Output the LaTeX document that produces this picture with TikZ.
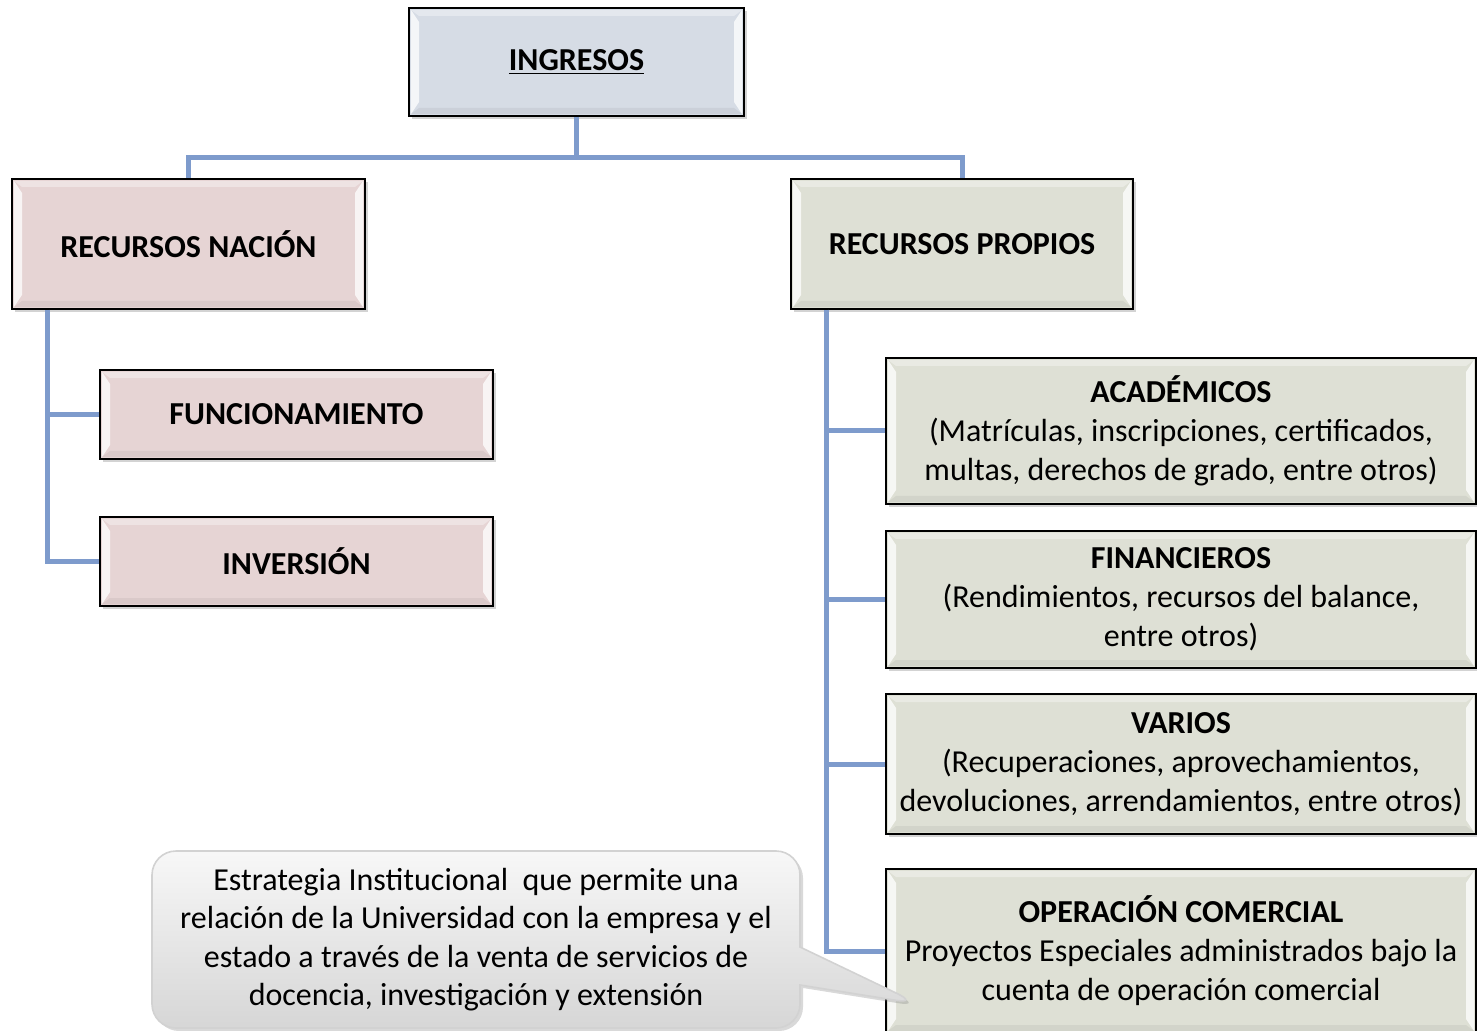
\documentclass[tikz,border=0pt]{standalone}
\usepackage{fontspec}
\setmainfont{Carlito}
\usetikzlibrary{positioning,shadows,shapes.callouts}

\definecolor{linkblue}{RGB}{126,155,204}
\definecolor{ingfill}{RGB}{214,220,229}
\definecolor{nacfill}{RGB}{230,212,212}
\definecolor{profill}{RGB}{222,224,213}

\tikzset{
  caja/.style={draw=black, line width=1pt, inner sep=0pt, align=center,
    font=\fontsize{16}{19.5}\selectfont,
    drop shadow={opacity=0.35, shadow xshift=1.5pt, shadow yshift=-1.5pt},
    path picture={
      \path (path picture bounding box.south west) coordinate (bsw)
            (path picture bounding box.north east) coordinate (bne)
            (bsw |- bne) coordinate (bnw) (bne |- bsw) coordinate (bse);
      \fill[white, opacity=0.75] ([shift={(1pt,1pt)}]bsw) -- ([shift={(5pt,7pt)}]bsw)
        -- ([shift={(5pt,-7pt)}]bnw) -- ([shift={(1pt,-1pt)}]bnw) -- cycle;
      \fill[white, opacity=0.75] ([shift={(-1pt,1pt)}]bse) -- ([shift={(-5pt,7pt)}]bse)
        -- ([shift={(-5pt,-7pt)}]bne) -- ([shift={(-1pt,-1pt)}]bne) -- cycle;
      \fill[white, opacity=0.35] ([shift={(1pt,-1pt)}]bnw) -- ([shift={(5pt,-4pt)}]bnw)
        -- ([shift={(-5pt,-4pt)}]bne) -- ([shift={(-1pt,-1pt)}]bne) -- cycle;
      \fill[black, opacity=0.05] ([shift={(1pt,1pt)}]bsw) -- ([shift={(5pt,4pt)}]bsw)
        -- ([shift={(-5pt,4pt)}]bse) -- ([shift={(-1pt,1pt)}]bse) -- cycle;
    }},
  link/.style={draw=linkblue, line width=2.5pt},
  nota/.style={rectangle callout, rounded corners=12pt, draw=gray!35, line width=0.8pt,
    top color=gray!6, bottom color=gray!32, align=center,
    font=\fontsize{16}{19.25}\selectfont, callout pointer width=19pt,
    drop shadow={opacity=0.3, shadow xshift=1.5pt, shadow yshift=-1.5pt}}
}

\begin{document}
\begin{tikzpicture}[x=0.5pt, y=-0.5pt]
\useasboundingbox (0,0) rectangle (1477,1031);

% raiz
\node[caja, fill=ingfill, minimum width=167.5pt, minimum height=54pt] (ing) at (576.5,62)
  {\bfseries\underline{INGRESOS}};

% recursos nacion
\node[caja, fill=nacfill, minimum width=176.5pt, minimum height=65pt] (nac) at (188.5,244)
  {\bfseries RECURSOS NACIÓN};
\node[caja, fill=nacfill, minimum width=196.5pt, minimum height=44.5pt] (fun) at (296.5,414.5)
  {\bfseries FUNCIONAMIENTO};
\node[caja, fill=nacfill, minimum width=196.5pt, minimum height=44.5pt] (inv) at (296.5,561.5)
  {\bfseries INVERSIÓN};

% recursos propios
\node[caja, fill=profill, minimum width=171pt, minimum height=65pt] (pro) at (962,244)
  {\bfseries RECURSOS PROPIOS};
\node[caja, fill=profill, minimum width=295pt, minimum height=73pt] (aca) at (1181,431)
  {\textbf{ACADÉMICOS}\\(Matrículas, inscripciones, certificados,\\multas, derechos de grado, entre otros)};
\node[caja, fill=profill, minimum width=295pt, minimum height=68.5pt] (fin) at (1181,599.5)
  {\textbf{FINANCIEROS}\\(Rendimientos, recursos del balance,\\entre otros)};
\node[caja, fill=profill, minimum width=295pt, minimum height=70pt] (var) at (1181,764)
  {\textbf{VARIOS}\\(Recuperaciones, aprovechamientos,\\devoluciones, arrendamientos, entre otros)};
\node[caja, fill=profill, minimum width=295pt, minimum height=82pt] (com) at (1181,951)
  {\textbf{OPERACIÓN COMERCIAL}\\Proyectos Especiales administrados bajo la\\cuenta de operación comercial};

% conectores
\coordinate (bar) at (576.5,158);
\draw[link] (ing.south) -- (bar) -| (nac.north);
\draw[link] (bar) -| (pro.north);
\draw[link] ([xshift=-70.5pt]nac.south) |- (fun.west);
\draw[link] ([xshift=-70.5pt]nac.south) |- (inv.west);
\foreach \n in {aca,fin,var,com}
  \draw[link] ([xshift=-68pt]pro.south) |- (\n.west);

% nota
\coordinate (tip) at (919,1004);
\node[nota, minimum width=324pt, minimum height=88.5pt, callout absolute pointer={(tip)}] (est) at (476,939.5)
  {Estrategia Institucional\ \ que permite una\\relación de la Universidad con la empresa y el\\estado a través de la venta de servicios de\\docencia, investigación y extensión};
\end{tikzpicture}
\end{document}
